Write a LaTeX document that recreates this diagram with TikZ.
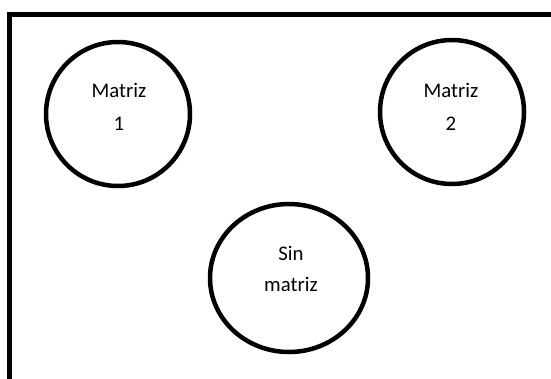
\documentclass[tikz,border=0pt]{standalone}
\usepackage{fontspec}
\setmainfont{Carlito}
\usetikzlibrary{shapes.geometric}
\tikzset{
  ring/.style={draw=black, line width=4.5pt, circle, inner sep=0pt, minimum size=144pt},
  oval/.style={draw=black, line width=4.5pt, ellipse, inner sep=0pt, minimum width=158pt, minimum height=148pt},
  lbl/.style={align=center, inner sep=0pt, anchor=base, font=\fontsize{20.8}{33}\selectfont},
  frame/.style={draw=black, line width=5pt}
}
\begin{document}
\begin{tikzpicture}[x=1pt,y=-1pt]
\useasboundingbox (0,0) rectangle (551,378);
\coordinate (fb) at (9.5,380);
\coordinate (ft) at (9.5,14.5);
\coordinate (fr) at (553,14.5);
\draw[frame] (fb) -- (ft) -- (fr);
\node[ring] (m1) at (118,114) {};
\node[ring] (m2) at (452,112) {};
\node[oval] (sm) at (289,278) {};
\node[lbl] (t1) at (119,130) {Matriz\\1};
\node[lbl] (t2) at (451,130) {Matriz\\2};
\node[lbl, font=\fontsize{20.8}{31}\selectfont] (t3) at (291,291) {Sin\\matriz};
\end{tikzpicture}
\end{document}
